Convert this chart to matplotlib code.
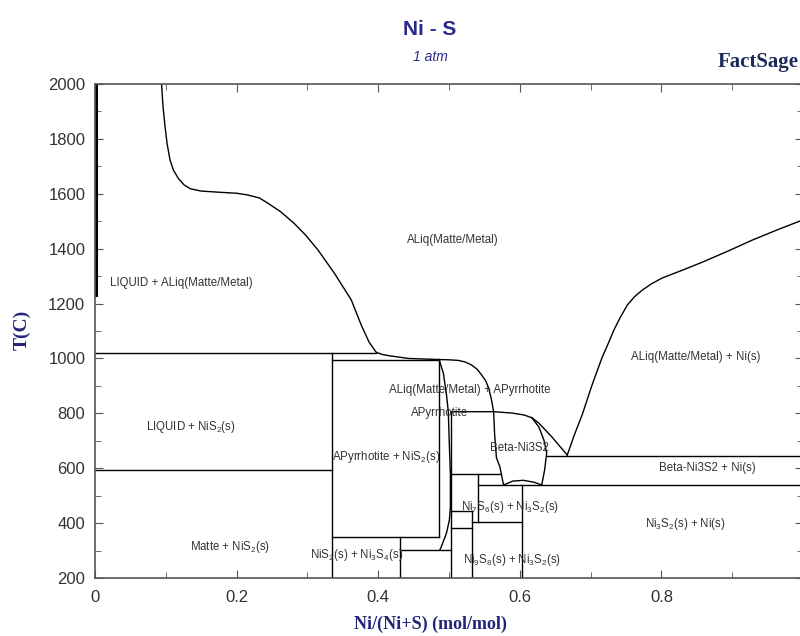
import matplotlib.pyplot as plt
from matplotlib.ticker import MultipleLocator

plt.rcParams['font.family'] = ['Liberation Sans', 'DejaVu Sans']
plt.rcParams['mathtext.fontset'] = 'custom'
plt.rcParams['mathtext.rm'] = 'Liberation Sans'
plt.rcParams['mathtext.default'] = 'regular'

# phase boundary curves (x = Ni/(Ni+S), T in C)
liq_left_x = [0.094, 0.096, 0.099, 0.102, 0.106, 0.111, 0.118, 0.126, 0.135, 0.150, 0.173, 0.200, 0.215,
              0.232, 0.244, 0.262, 0.281, 0.298, 0.315, 0.338, 0.362, 0.376, 0.387, 0.397, 0.405, 0.415,
              0.443, 0.486]
liq_left_T = [2000, 1920, 1843, 1780, 1723, 1685, 1655, 1632, 1618, 1610, 1606, 1602, 1596,
              1585, 1566, 1535, 1493, 1448, 1395, 1311, 1213, 1122, 1060, 1023, 1015, 1010,
              1000, 996]

pyrr_liq_x = [0.486, 0.500, 0.513, 0.523, 0.532, 0.540, 0.546, 0.552, 0.556, 0.560, 0.563, 0.5645, 0.567, 0.572, 0.577]
pyrr_liq_T = [996, 995, 993, 987, 976, 960, 940, 918, 892, 850, 806, 721, 638, 604, 539]

pyrr_s_x = [0.486, 0.492, 0.4965, 0.499, 0.5005, 0.502, 0.502, 0.5005, 0.4965, 0.489, 0.487]
pyrr_s_T = [996, 947, 867, 806, 685, 575, 459, 411, 364, 313, 302]

pyrr_top_x = [0.503, 0.563, 0.589, 0.606, 0.617]
pyrr_top_T = [806, 806, 801, 794, 784]

beta_liq_x = [0.617, 0.627, 0.645, 0.667]
beta_liq_T = [784, 764, 715, 648]

beta_right_x = [0.617, 0.627, 0.634, 0.638, 0.635, 0.631]
beta_right_T = [784, 750, 703, 655, 593, 539]

beta_bot_x = [0.577, 0.590, 0.605, 0.620, 0.631]
beta_bot_T = [539, 553, 556, 549, 539]

liq_right_x = [0.667, 0.677, 0.688, 0.702, 0.716, 0.725, 0.733, 0.742, 0.752, 0.762, 0.773, 0.786, 0.801,
               0.830, 0.858, 0.893, 0.929, 0.965, 1.0]
liq_right_T = [648, 721, 794, 903, 1002, 1055, 1104, 1150, 1195, 1225, 1249, 1272, 1293,
               1322, 1351, 1390, 1432, 1470, 1505]

s_edge_x = [0.002, 0.002]
s_edge_T = [2000, 1230]

# isotherms: (T, x start, x end)
isotherms = [(1020, 0.0, 0.397), (995, 0.335, 0.486), (595, 0.0, 0.335), (350, 0.335, 0.486),
             (302, 0.431, 0.503), (579, 0.503, 0.573), (444, 0.503, 0.533), (382, 0.503, 0.533),
             (403, 0.533, 0.603), (538, 0.541, 1.0), (645, 0.638, 1.0)]

# compounds / verticals: (x, T low, T high)
verticals = [(0.335, 200, 1020), (0.486, 350, 996), (0.431, 200, 350), (0.503, 200, 806),
             (0.533, 200, 444), (0.541, 403, 579), (0.603, 200, 538)]

labels = ['ALiq(Matte/Metal)', 'LIQUID + ALiq(Matte/Metal)', 'LIQUID + NiS$_2$(s)', 'Matte + NiS$_2$(s)',
          'APyrrhotite + NiS$_2$(s)', 'ALiq(Matte/Metal) + APyrrhotite', 'APyrrhotite', 'Beta-Ni3S2',
          'ALiq(Matte/Metal) + Ni(s)', 'Beta-Ni3S2 + Ni(s)', 'Ni$_3$S$_2$(s) + Ni(s)',
          'Ni$_7$S$_6$(s) + Ni$_3$S$_2$(s)', 'Ni$_9$S$_8$(s) + Ni$_3$S$_2$(s)', 'NiS$_2$(s) + Ni$_3$S$_4$(s)']
label_x = [0.506, 0.021, 0.135, 0.191, 0.411, 0.530, 0.487, 0.599, 0.848, 0.865, 0.834, 0.586, 0.589, 0.369]
label_T = [1432, 1275, 750, 313, 641, 885, 801, 674, 1005, 601, 397, 459, 265, 284]

fig = plt.figure(figsize=(8, 6.36), dpi=100)
ax = fig.add_axes([0.11875, 0.0912, 0.885, 0.7767])

lc = 'black'
lw = 1.0
for xs, ts in [(liq_left_x, liq_left_T), (pyrr_liq_x, pyrr_liq_T), (pyrr_s_x, pyrr_s_T),
               (pyrr_top_x, pyrr_top_T), (beta_liq_x, beta_liq_T), (beta_right_x, beta_right_T),
               (beta_bot_x, beta_bot_T), (liq_right_x, liq_right_T)]:
    ax.plot(xs, ts, color=lc, lw=lw)
ax.plot(s_edge_x, s_edge_T, color=lc, lw=2.2)

for T, x0, x1 in isotherms:
    ax.plot([x0, x1], [T, T], color=lc, lw=lw)
for x, t0, t1 in verticals:
    ax.plot([x, x], [t0, t1], color=lc, lw=lw)

for s, x, T in zip(labels, label_x, label_T):
    ha = 'left' if s.startswith('LIQUID + ALiq') else 'center'
    ax.text(x, T, s, fontsize=8.3, color='#333333', ha=ha, va='center')

ax.set_xlim(0, 1)
ax.set_ylim(200, 2000)
ax.xaxis.set_major_locator(MultipleLocator(0.2))
ax.xaxis.set_minor_locator(MultipleLocator(0.1))
ax.yaxis.set_major_locator(MultipleLocator(200))
ax.yaxis.set_minor_locator(MultipleLocator(100))
ax.set_xticks([0, 0.2, 0.4, 0.6, 0.8])
ax.set_xticklabels(['0', '0.2', '0.4', '0.6', '0.8'])
ax.tick_params(which='both', direction='in', top=True, right=True, colors='#555555', labelcolor='#333333')
ax.tick_params(which='major', length=6, labelsize=12)
ax.tick_params(which='minor', length=4)
ax.tick_params(axis='x', pad=9)
ax.tick_params(axis='y', pad=7)
for sp in ax.spines.values():
    sp.set_color('#555555')
    sp.set_linewidth(1.2)

navy = '#2a2a8c'
fig.text(0.5375, 0.953, 'Ni - S', ha='center', va='center', fontsize=15, fontweight='bold', color=navy)
fig.text(0.5375, 0.910, '1 atm', ha='center', va='center', fontsize=10, style='italic', color=navy)
fig.text(0.998, 0.902, 'FactSage', ha='right', va='center', fontsize=15, fontweight='bold',
         family='Liberation Serif', color='#1c2a5a')
fig.text(0.028, 0.481, 'T(C)', rotation=90, ha='center', va='center', fontsize=14, fontweight='bold',
         family='Liberation Serif', color='#23237a')
fig.text(0.5375, 0.018, 'Ni/(Ni+S) (mol/mol)', ha='center', va='center', fontsize=13, fontweight='bold',
         family='Liberation Serif', color='#23237a')

fig.savefig('out.png', dpi=100)
